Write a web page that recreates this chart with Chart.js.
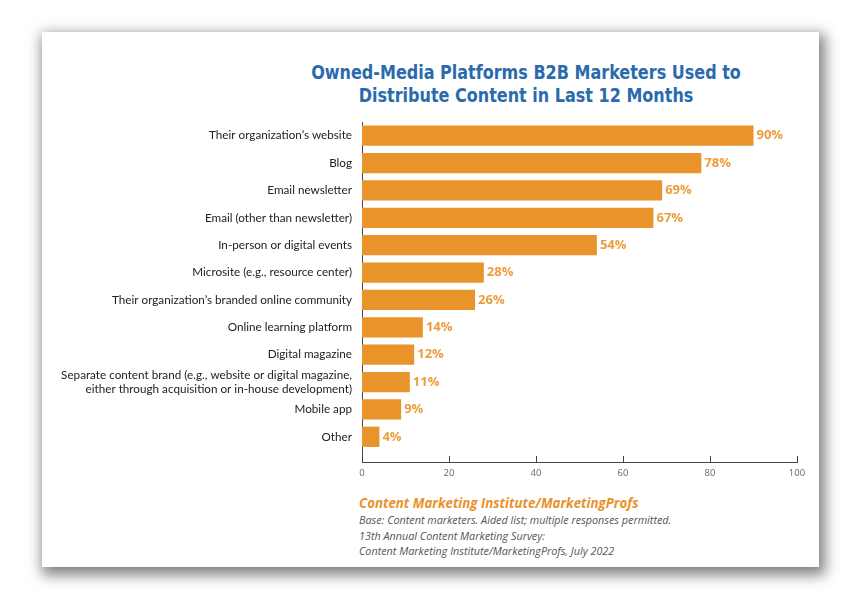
<!DOCTYPE html>
<html>
<head>
<meta charset="utf-8">
<script src="https://cdn.jsdelivr.net/npm/chart.js@4"></script>
<style>
  html, body { margin: 0; padding: 0; background: #ffffff; width: 866px; height: 600px; overflow: hidden; }
  #card { position: absolute; left: 42px; top: 32px; width: 777px; height: 535px; background: #fff;
          box-shadow: 3px 5px 13px 3px rgba(0,0,0,0.5); }
  #title { position: absolute; left: 226px; width: 600px; top: 61px; text-align: center;
           font-family: "DejaVu Sans Condensed", "Liberation Sans Narrow", sans-serif; font-weight: bold;
           font-size: 20px; line-height: 23px; color: #2a6aad; transform: scaleX(0.89); transform-origin: 300px 0; }
  #wrap { position: absolute; left: 42px; top: 115px; width: 777px; height: 370px; }
  #foot { position: absolute; left: 359px; top: 494px; font-family: "Open Sans", sans-serif; font-style: italic; }
  #foot .src { color: #e8922c; font-weight: bold; font-size: 13.3px; line-height: 18px; }
  #foot .note { color: #555; font-size: 10.8px; line-height: 15.5px; }
</style>
</head>
<body>
<div id="card"></div>
<div id="title">Owned-Media Platforms B2B Marketers Used to<br>Distribute Content in Last 12 Months</div>
<div id="wrap"><canvas id="c" width="777" height="370"></canvas></div>
<div id="foot">
  <div class="src">Content Marketing Institute/MarketingProfs</div>
  <div class="note">Base: Content marketers. Aided list; multiple responses permitted.<br>13th Annual Content Marketing Survey:<br>Content Marketing Institute/MarketingProfs, July 2022</div>
</div>
<script>
const categories = [
  "Their organization\u2019s website",
  "Blog",
  "Email newsletter",
  "Email (other than newsletter)",
  "In-person or digital events",
  "Microsite (e.g., resource center)",
  "Their organization\u2019s branded online community",
  "Online learning platform",
  "Digital magazine",
  ["Separate content brand (e.g., website or digital magazine,", "either through acquisition or in-house development)"],
  "Mobile app",
  "Other"
];
const values = [90, 78, 69, 67, 54, 28, 26, 14, 12, 11, 9, 4];
const xTicks = [0, 20, 40, 60, 80, 100];

const barColor = "#e8942b";
const labelColor = "#ec9d3c";

const points = values.map((v, i) => ({ x: v, y: i }));

const valueLabels = {
  id: "valueLabels",
  afterDatasetsDraw(chart) {
    const ctx = chart.ctx;
    const meta = chart.getDatasetMeta(0);
    ctx.save();
    ctx.font = "bold 13px 'Open Sans', sans-serif";
    ctx.fillStyle = labelColor;
    ctx.textAlign = "left";
    ctx.textBaseline = "middle";
    meta.data.forEach((bar, i) => {
      ctx.fillText(values[i] + "%", bar.x + 3, bar.y);
    });
    ctx.restore();
  }
};

const upTicks = {
  id: "upTicks",
  afterDraw(chart) {
    const ctx = chart.ctx;
    const xs = chart.scales.x;
    const bottom = chart.chartArea.bottom;
    ctx.save();
    ctx.strokeStyle = "#444";
    ctx.lineWidth = 1;
    xTicks.forEach(t => {
      if (t === 0) return;
      const px = Math.round(xs.getPixelForValue(t)) + 0.5;
      ctx.beginPath();
      ctx.moveTo(px, bottom);
      ctx.lineTo(px, bottom - 6);
      ctx.stroke();
    });
    ctx.restore();
  }
};

new Chart(document.getElementById("c"), {
  type: "bar",
  data: {
    datasets: [{
      data: points,
      backgroundColor: barColor,
      borderWidth: 0,
      barPercentage: 0.74,
      categoryPercentage: 1.0
    }]
  },
  options: {
    indexAxis: "y",
    responsive: false,
    animation: false,
    layout: { padding: { left: 0, right: 22, top: 7, bottom: 3 } },
    plugins: { legend: { display: false }, tooltip: { enabled: false } },
    scales: {
      x: {
        type: "linear",
        min: 0, max: 100,
        afterBuildTicks(scale) { scale.ticks = xTicks.map(v => ({ value: v })); },
        afterFit(scale) { scale.height = 20; },
        grid: { display: false, drawTicks: false },
        border: { display: true, color: "#444", width: 1 },
        ticks: { color: "#666", font: { family: "'Open Sans', sans-serif", size: 9.5 }, padding: 6, maxRotation: 0 }
      },
      y: {
        type: "linear",
        reverse: true,
        offset: false,
        bounds: "data",
        min: -0.5, max: 11.92,
        afterBuildTicks(scale) { scale.ticks = categories.map((c, i) => ({ value: i })); },
        afterFit(scale) { scale.width = 320; scale.paddingTop = 0; scale.paddingBottom = 0; },
        grid: { display: false, drawTicks: false },
        border: { display: true, color: "#444", width: 1 },
        ticks: {
          color: "#222",
          font: { family: "Lato, sans-serif", size: 11.7 },
          padding: 10,
          autoSkip: false,
          callback: (v) => categories[v]
        }
      }
    }
  },
  plugins: [valueLabels, upTicks]
});
</script>
</body>
</html>
